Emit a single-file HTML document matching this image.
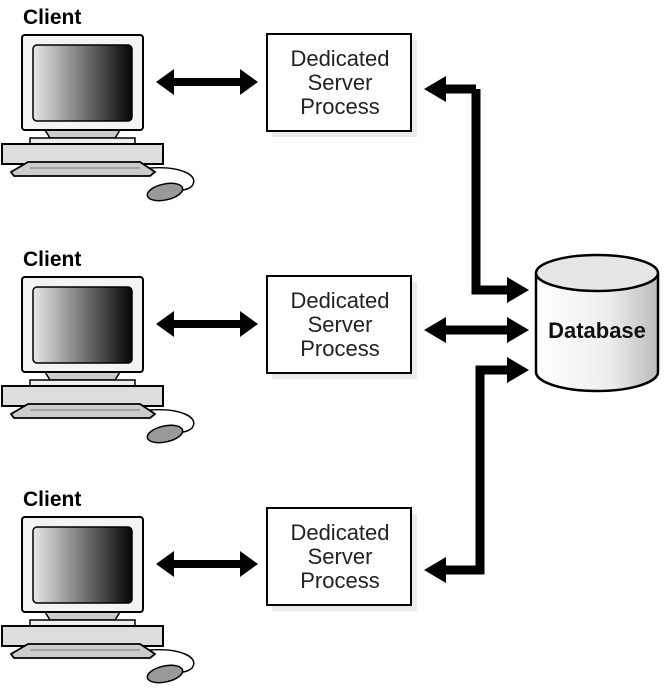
<!DOCTYPE html>
<html><head><meta charset="utf-8"><style>
html,body{margin:0;padding:0;background:#fff}
svg{display:block}
text{font-family:"Liberation Sans",Arial,sans-serif}
</style></head><body>
<svg width="664" height="688" viewBox="0 0 664 688" xmlns="http://www.w3.org/2000/svg">
<defs>
<linearGradient id="scr" x1="0" x2="1" y1="0" y2="0">
<stop offset="0" stop-color="#e8e8e8"/><stop offset="0.5" stop-color="#777"/><stop offset="1" stop-color="#050505"/>
</linearGradient>
<linearGradient id="cyl" x1="0" x2="1" y1="0" y2="0">
<stop offset="0" stop-color="#fff"/><stop offset="0.6" stop-color="#eee"/><stop offset="1" stop-color="#bbb"/>
</linearGradient>
<g id="pc">
<text x="23" y="24" font-size="21" font-weight="bold" fill="#000">Client</text>
<path d="M45 130 L50 138 L115 138 L120 130 Z" fill="#ccc" stroke="#000" stroke-width="1.5"/>
<rect x="22" y="35" width="121" height="95" rx="3" fill="#f4f4f4" stroke="#000" stroke-width="2"/>
<rect x="33" y="45" width="99" height="76" rx="4" fill="url(#scr)" stroke="#000" stroke-width="1.5"/>
<rect x="30" y="138" width="105" height="6" fill="#eee" stroke="#000" stroke-width="1.5"/>
<rect x="2" y="144" width="161" height="20" fill="#ddd" stroke="#000" stroke-width="2"/>
<path d="M150 168 C180 166 200 175 192 186 C188 190 182 190 178 191" fill="none" stroke="#000" stroke-width="1.5"/>
<path d="M28 162 L140 162 L155 172 L150 176 L14 176 L11 172 Z" fill="#ccc" stroke="#000" stroke-width="1.8"/>
<line x1="30" y1="168" x2="140" y2="168" stroke="#777" stroke-width="1"/>
<ellipse cx="165" cy="192" rx="18" ry="8" transform="rotate(-12 165 192)" fill="#999" stroke="#000" stroke-width="1.5"/>
<path d="M156 82 L174 69 L174 78 L240 78 L240 69 L258 82 L240 95 L240 86 L174 86 L174 95 Z" fill="#000"/>
</g>
<g id="box">
<rect x="272" y="40" width="145" height="97" fill="#ddd" opacity="0.6"/>
<rect x="267" y="34" width="144" height="97" fill="#fff" stroke="#000" stroke-width="2"/>
<text x="340" y="66" font-size="22" text-anchor="middle" fill="#222">Dedicated</text>
<text x="340" y="90" font-size="22" text-anchor="middle" fill="#222">Server</text>
<text x="340" y="114" font-size="22" text-anchor="middle" fill="#222">Process</text>
</g>
</defs>
<use href="#pc"/>
<use href="#pc" y="242"/>
<use href="#pc" y="482"/>
<use href="#box"/>
<use href="#box" y="242"/>
<use href="#box" y="474"/>
<path d="M476 89 L476 290 L512 290" fill="none" stroke="#000" stroke-width="9"/>
<path d="M424 89 L446 76 L446 102 Z" fill="#000"/>
<path d="M441 89 L476 89" stroke="#000" stroke-width="9"/>
<path d="M529 290 L507 277 L507 303 Z" fill="#000"/>
<path d="M440 330 L512 330" stroke="#000" stroke-width="9"/>
<path d="M424 330 L446 317 L446 343 Z" fill="#000"/>
<path d="M529 330 L507 317 L507 343 Z" fill="#000"/>
<path d="M512 370 L480 370 L480 570 L440 570" fill="none" stroke="#000" stroke-width="9"/>
<path d="M529 370 L507 357 L507 383 Z" fill="#000"/>
<path d="M424 570 L446 557 L446 583 Z" fill="#000"/>
<path d="M536 273 L536 372 A61 19 0 0 0 658 372 L658 273" fill="url(#cyl)" stroke="#000" stroke-width="2.5"/>
<ellipse cx="597" cy="273" rx="61" ry="18" fill="#e6e6e6" stroke="#000" stroke-width="2.5"/>
<text x="597" y="338" font-size="22" font-weight="bold" text-anchor="middle" fill="#111">Database</text>
</svg>
</body></html>
